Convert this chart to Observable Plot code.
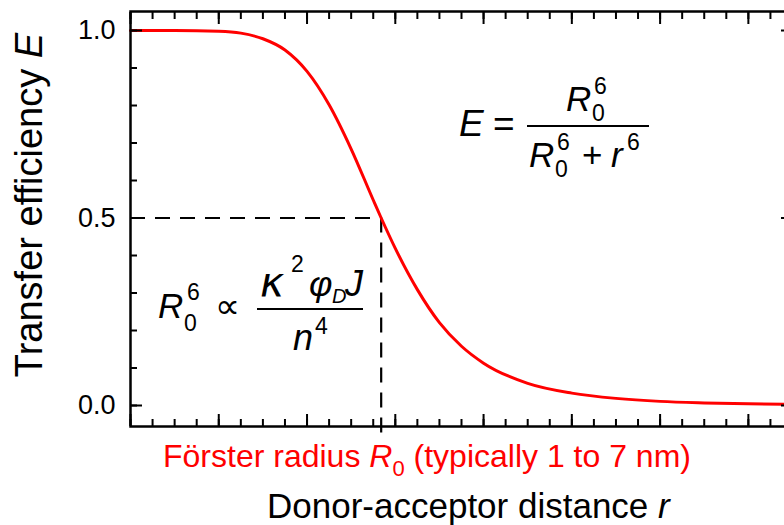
<!DOCTYPE html>
<html>
<head>
<meta charset="utf-8">
<script src="https://cdn.jsdelivr.net/npm/d3@7"></script>
<script src="https://cdn.jsdelivr.net/npm/@observablehq/plot@0.6"></script>
<style>
  html, body { margin: 0; padding: 0; background: #fff; overflow: hidden; }
  #wrap { position: relative; width: 784px; height: 525px; overflow: hidden; }
  #wrap svg { max-width: none !important; display: block; }
  svg text { font-family: "Liberation Sans", Arial, sans-serif; }
</style>
</head>
<body>
<div id="wrap"></div>
<script>
// Donor-acceptor distance (units of the x axis, major tick = 1)
const distance = [0, 0.5, 1.0, 1.25, 1.5, 1.75, 2.0, 2.25, 2.5, 2.75, 2.84, 3.0, 3.25, 3.5, 3.75, 4.0, 4.5, 5.0, 5.5, 6.0, 6.5, 7.0, 7.5];
// Transfer efficiency
const efficiency = [1.0, 1.0, 0.998, 0.993, 0.978, 0.948, 0.891, 0.802, 0.684, 0.548, 0.5, 0.419, 0.309, 0.221, 0.158, 0.113, 0.059, 0.033, 0.019, 0.011, 0.007, 0.0045, 0.003];
const forsterRadius = 2.84;
const halfEfficiency = 0.5;
const yTickLabels = [0, 0.5, 1.0];

const curve = distance.map((r, i) => ({r, E: efficiency[i]}));
const xMinor = d3.range(0, 7.5001, 0.25);
const xMajor = d3.range(0, 7.5001, 1);
const yMinor = d3.range(0, 1.0001, 0.1).map(v => +v.toFixed(2));

const red = "#ff0000";

const chart = Plot.plot({
  width: 800,
  height: 525,
  marginLeft: 130,
  marginRight: 8,
  marginTop: 11,
  marginBottom: 99,
  x: {domain: [0, 7.5]},
  y: {domain: [-0.056, 1.0507]},
  style: {fontFamily: "Liberation Sans, Arial, sans-serif", background: "#fff", maxWidth: "none"},
  marks: [
    Plot.ruleY([halfEfficiency], {x1: 0, x2: forsterRadius, stroke: "#000", strokeWidth: 2.2, strokeDasharray: "15,10"}),
    Plot.ruleX([forsterRadius], {y1: halfEfficiency, y2: -0.076, stroke: "#000", strokeWidth: 2.2, strokeDasharray: "15,10"}),
    Plot.line(curve, {x: "r", y: "E", stroke: red, strokeWidth: 3, curve: "monotone-x"}),
    // x ticks (inward), bottom and top
    Plot.axisX({anchor: "bottom", ticks: xMinor, tickSize: -7, strokeWidth: 2, fill: "none", label: null}),
    Plot.axisX({anchor: "bottom", ticks: xMajor, tickSize: -12, strokeWidth: 2, fill: "none", label: null}),
    Plot.axisX({anchor: "top", ticks: xMinor, tickSize: -7, strokeWidth: 2, fill: "none", label: null}),
    Plot.axisX({anchor: "top", ticks: xMajor, tickSize: -12, strokeWidth: 2, fill: "none", label: null}),
    // y ticks (inward), left and right
    Plot.axisY({anchor: "left", ticks: yMinor, tickSize: -7, strokeWidth: 2, fill: "none", label: null}),
    Plot.axisY({anchor: "left", ticks: yTickLabels, tickSize: -12, strokeWidth: 2, tickPadding: 27,
      tickFormat: d3.format(".1f"), fontSize: 27, label: null}),
    Plot.axisY({anchor: "right", ticks: yMinor, tickSize: -7, strokeWidth: 2, fill: "none", label: null}),
    Plot.axisY({anchor: "right", ticks: yTickLabels, tickSize: -12, strokeWidth: 2, fill: "none", label: null}),
    Plot.frame({stroke: "#000", strokeWidth: 2.5})
  ]
});

document.getElementById("wrap").appendChild(chart);

const svg = d3.select(chart);
const g = svg.append("g").attr("class", "annotations").attr("text-anchor", "start");

function txt(x, y, s, {size = 35, italic = false, anchor = "start", fill = "#000", family = null} = {}) {
  const t = g.append("text")
    .attr("x", x).attr("y", y)
    .attr("font-size", size)
    .attr("font-style", italic ? "italic" : "normal")
    .attr("text-anchor", anchor)
    .attr("fill", fill)
    .text(s);
  if (family) t.style("font-family", family);
  return t;
}
function bar(x1, x2, y) {
  g.append("line").attr("x1", x1).attr("x2", x2).attr("y1", y).attr("y2", y)
    .attr("stroke", "#000").attr("stroke-width", 2);
}

// Formula 1: E = R0^6 / (R0^6 + r^6)
txt(459, 136, "E", {size: 37, italic: true});
txt(493, 136, "=", {size: 37});
bar(527, 649, 126);
txt(566, 111, "R", {italic: true});
txt(594, 94, "6", {size: 23});
txt(592, 121, "0", {size: 23});
txt(529, 167, "R", {italic: true});
txt(557, 150, "6", {size: 23});
txt(555, 177, "0", {size: 23});
txt(582, 167, "+");
txt(611, 167, "r", {italic: true});
txt(627, 150, "6", {size: 23});

// Formula 2: R0^6 ∝ κ²φ_D J / n^4
txt(158, 318, "R", {italic: true});
txt(187, 300, "6", {size: 23});
txt(184, 331, "0", {size: 23});
txt(215, 318, "∝");
bar(257, 363, 309);
txt(260, 296, "κ", {size: 41, italic: true, family: "DejaVu Sans, sans-serif"});
txt(291, 272, "2", {size: 23});
txt(309, 296, "φ", {size: 36, italic: true});
txt(332, 303, "D", {size: 20, italic: true});
txt(345, 296, "J", {size: 36, italic: true});
txt(293, 350, "n", {size: 36, italic: true});
txt(315, 334, "4", {size: 23});

// Red label under the x axis
const lab = g.append("text").attr("x", 163).attr("y", 467).attr("font-size", 32)
  .attr("fill", red).attr("text-anchor", "start");
lab.append("tspan").text("Förster radius ");
lab.append("tspan").attr("font-style", "italic").text("R");
lab.append("tspan").attr("font-size", 22).attr("dy", 9).text("0");
lab.append("tspan").attr("dy", -9).text(" (typically 1 to 7 nm)");

// Axis titles
const xt = g.append("text").attr("x", 267).attr("y", 518).attr("font-size", 35)
  .attr("fill", "#000").attr("text-anchor", "start");
xt.append("tspan").text("Donor-acceptor distance ");
xt.append("tspan").attr("font-style", "italic").text("r");

const yt = g.append("text").attr("transform", "translate(42,205) rotate(-90)")
  .attr("text-anchor", "middle").attr("font-size", 38).attr("fill", "#000");
yt.append("tspan").text("Transfer efficiency ");
yt.append("tspan").attr("font-style", "italic").text("E");
</script>
</body>
</html>
